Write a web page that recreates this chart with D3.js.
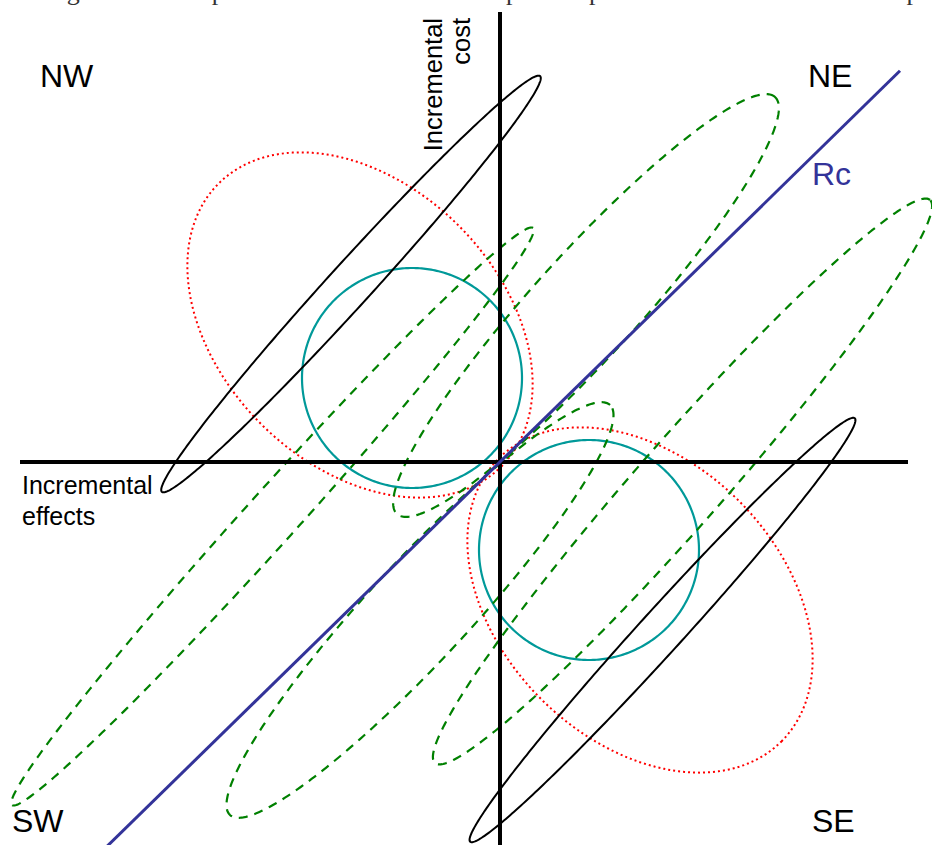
<!DOCTYPE html>
<html>
<head>
<meta charset="utf-8">
<script src="https://cdn.jsdelivr.net/npm/d3@7"></script>
<style>
  html, body { margin: 0; padding: 0; background: #fff; }
  svg { display: block; }
</style>
</head>
<body>
<svg id="chart" width="932" height="845"></svg>
<script>
// Cost-effectiveness plane: incremental effects (x) vs incremental cost (y)

// Plane extent in plane units
const xDomain = [-5.0, 4.32];
const yDomain = [4.62, -3.83];
const hAxisSpan = [-4.8, 4.08];   // horizontal axis (effects)
const vAxisSpan = [4.5, -3.9];    // vertical axis (cost)

// Ceiling ratio line Rc: cost = rcSlope * effect
const rcSlope = 0.978;
const rcSpan = [-3.95, 4.0];

// Strongly correlated joint distributions (solid black)
const blackEllipses = [
  { cx: -1.49, cy: 1.78, a: 2.81, b: 0.215, angle: 47.7 },
  { cx: 1.625, cy: -1.68, a: 2.86, b: 0.215, angle: 47.75 }
];

// Uncorrelated distributions (cyan circles)
const cyanCircles = [
  { cx: -0.88, cy: 0.84, r: 1.10 },
  { cx: 0.89, cy: -0.88, r: 1.10 }
];

// Negatively correlated distributions (red dotted)
const redEllipses = [
  { cx: -1.40, cy: 1.37, a: 2.00, b: 1.40, angle: -45 },
  { cx: 1.40, cy: -1.38, a: 2.00, b: 1.40, angle: -45 }
];

// Distributions spanning quadrants (green dashed), given by the two tips and half-width
const greenEllipses = [
  { x1: 0.33, y1: 2.34, x2: -4.88, y2: -3.43, b: 0.26 },
  { x1: 2.75, y1: 3.65, x2: -1.03, y2: -0.52, b: 0.52 },
  { x1: 1.10, y1: 0.57, x2: -2.70, y2: -3.53, b: 0.50 },
  { x1: 4.30, y1: 2.62, x2: -0.65, y2: -3.01, b: 0.43 }
];

// Quadrant and axis labels
const quadrantLabels = [
  { text: "NW", x: -4.60, y: 3.75 },
  { text: "NE", x: 3.08, y: 3.75 },
  { text: "SW", x: -4.88, y: -3.70 },
  { text: "SE", x: 3.12, y: -3.70 }
];
const costLabel = ["Incremental", "cost"];
const effectLabel = ["Incremental", "effects"];
const rcLabel = "Rc";
const captionText = "Fig. 1. Each shape on the cost-effectiveness plane represents a 95% confidence ellipse of impact.";

const width = 932, height = 845;
const svg = d3.select("#chart");

const x = d3.scaleLinear().domain(xDomain).range([0, width]);
const y = d3.scaleLinear().domain(yDomain).range([0, height]);

const line = d3.line().x(d => x(d[0])).y(d => y(d[1])).curve(d3.curveLinearClosed);

function ellipsePoints(cx, cy, a, b, angleDeg) {
  const t = angleDeg * Math.PI / 180;
  const c = Math.cos(t), s = Math.sin(t);
  return d3.range(0, 360, 1).map(k => {
    const p = k * Math.PI / 180;
    const u = a * Math.cos(p), v = b * Math.sin(p);
    return [cx + u * c - v * s, cy + u * s + v * c];
  });
}

function tipsToEllipse(e) {
  const cx = (e.x1 + e.x2) / 2, cy = (e.y1 + e.y2) / 2;
  const dx = e.x1 - e.x2, dy = e.y1 - e.y2;
  return { cx, cy, a: Math.hypot(dx, dy) / 2, b: e.b, angle: Math.atan2(dy, dx) * 180 / Math.PI };
}

// Caption line running off the top edge (only its lowest strokes fall on the page)
svg.append("text")
  .attr("x", 45).attr("y", 0)
  .attr("font-family", "Liberation Serif, serif")
  .attr("font-size", 26)
  .attr("fill", "#333")
  .text(captionText);

// Red dotted ellipses
svg.append("g").selectAll("path").data(redEllipses).join("path")
  .attr("d", d => line(ellipsePoints(d.cx, d.cy, d.a, d.b, d.angle)))
  .attr("fill", "none").attr("stroke", "#ff0000")
  .attr("stroke-width", 2).attr("stroke-dasharray", "2,3");

// Cyan circles
svg.append("g").selectAll("path").data(cyanCircles).join("path")
  .attr("d", d => line(ellipsePoints(d.cx, d.cy, d.r, d.r, 0)))
  .attr("fill", "none").attr("stroke", "#009999").attr("stroke-width", 2.2);

// Green dashed ellipses
svg.append("g").selectAll("path").data(greenEllipses.map(tipsToEllipse)).join("path")
  .attr("d", d => line(ellipsePoints(d.cx, d.cy, d.a, d.b, d.angle)))
  .attr("fill", "none").attr("stroke", "#008000")
  .attr("stroke-width", 2.2).attr("stroke-dasharray", "9,7");

// Black ellipses
svg.append("g").selectAll("path").data(blackEllipses).join("path")
  .attr("d", d => line(ellipsePoints(d.cx, d.cy, d.a, d.b, d.angle)))
  .attr("fill", "none").attr("stroke", "#000").attr("stroke-width", 2);

// Axes through the origin
svg.append("line")
  .attr("x1", x(hAxisSpan[0])).attr("x2", x(hAxisSpan[1]))
  .attr("y1", y(0)).attr("y2", y(0))
  .attr("stroke", "#000").attr("stroke-width", 4);
svg.append("line")
  .attr("x1", x(0)).attr("x2", x(0))
  .attr("y1", y(vAxisSpan[0])).attr("y2", y(vAxisSpan[1]))
  .attr("stroke", "#000").attr("stroke-width", 4);

// Rc line
svg.append("line")
  .attr("x1", x(rcSpan[0])).attr("y1", y(rcSlope * rcSpan[0]))
  .attr("x2", x(rcSpan[1])).attr("y2", y(rcSlope * rcSpan[1]))
  .attr("stroke", "#333399").attr("stroke-width", 3);

// Labels
const font = "Liberation Sans, Arial, Helvetica, sans-serif";
svg.append("g").selectAll("text").data(quadrantLabels).join("text")
  .attr("x", d => x(d.x)).attr("y", d => y(d.y))
  .attr("font-family", font).attr("font-size", 32).attr("fill", "#000")
  .text(d => d.text);

svg.append("text")
  .attr("x", x(3.12)).attr("y", y(2.77))
  .attr("font-family", font).attr("font-size", 32).attr("fill", "#333399")
  .text(rcLabel);

const costG = svg.append("g")
  .attr("transform", `translate(${x(-0.58)},${y(4.44)}) rotate(-90)`);
costG.selectAll("text").data(costLabel).join("text")
  .attr("x", 0).attr("y", (d, i) => i * 28)
  .attr("text-anchor", "end")
  .attr("font-family", font).attr("font-size", 25.5).attr("fill", "#000")
  .text(d => d);

svg.append("g").selectAll("text").data(effectLabel).join("text")
  .attr("x", x(-4.78)).attr("y", (d, i) => y(-0.32) + i * 31)
  .attr("font-family", font).attr("font-size", 25).attr("fill", "#000")
  .text(d => d);
</script>
</body>
</html>
